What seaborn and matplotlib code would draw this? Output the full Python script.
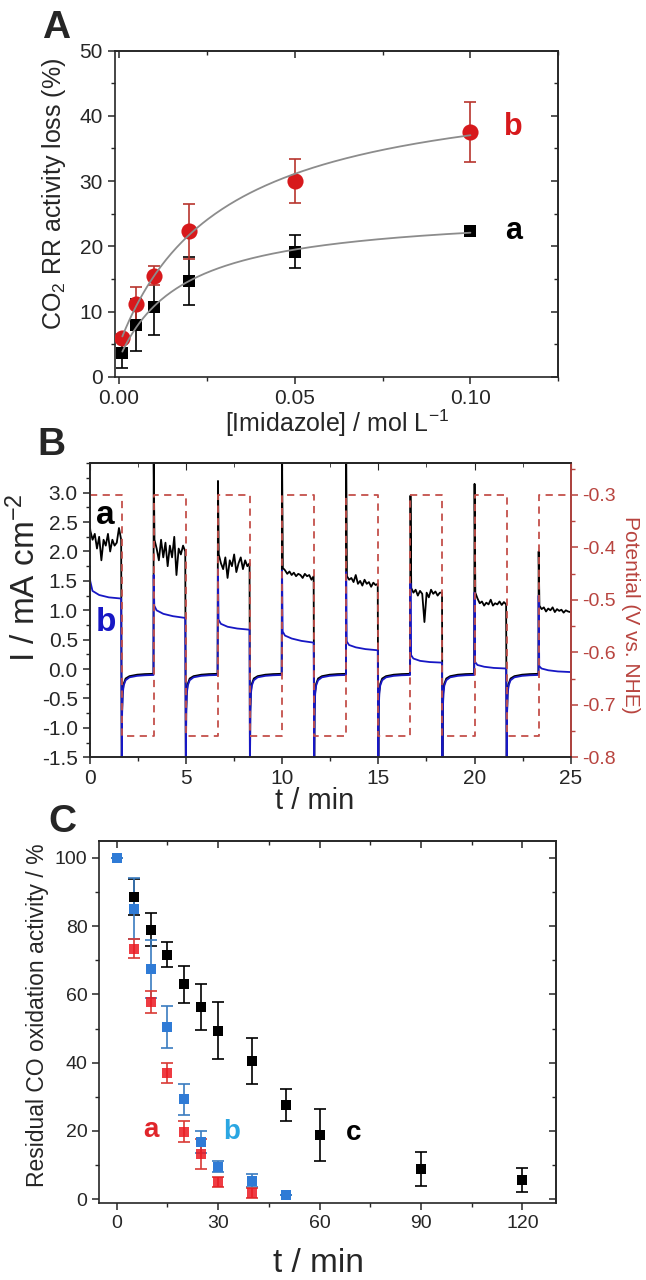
import numpy as np
import pandas as pd
import matplotlib
matplotlib.use('Agg')
import matplotlib.pyplot as plt
from matplotlib.ticker import MultipleLocator, FormatStrFormatter
import seaborn as sns

sns.set_style('ticks')
plt.rcParams['font.family'] = ['Liberation Sans', 'DejaVu Sans']
plt.rcParams['mathtext.fontset'] = 'custom'
plt.rcParams['mathtext.rm'] = 'Liberation Sans'
plt.rcParams['mathtext.it'] = 'Liberation Sans:italic'
plt.rcParams['axes.linewidth'] = 1.2
plt.rcParams['axes.unicode_minus'] = False

# %% panel A data
conc = [0.001, 0.005, 0.01, 0.02, 0.05, 0.10]
loss_a = [3.7, 7.9, 10.7, 14.7, 19.2, 22.3]
err_a = [2.3, 4.0, 4.3, 3.7, 2.6, 0.5]
loss_b = [5.9, 11.1, 15.5, 22.3, 30.0, 37.6]
err_b = [0.6, 2.6, 1.5, 4.2, 3.4, 4.6]

# %% panel B data (chronoamperometry, potential steps every 100 s)
step_t = [0, 1.67, 3.33, 5.0, 6.67, 8.33, 10.0, 11.67, 13.33, 15.0, 16.67, 18.33, 20.0, 21.67, 23.33, 25.0]
potential = [-0.30, -0.76, -0.30, -0.76, -0.30, -0.76, -0.30, -0.76,
             -0.30, -0.76, -0.30, -0.76, -0.30, -0.76, -0.30, -0.30]

# black trace a, on-steps: first value right after the switch, then the noisy plateau
a_on = [
    [2.48, 2.35, 2.2, 2.3, 2.05, 2.25, 1.85, 2.2, 2.1, 2.3, 2.0, 2.2, 2.1, 2.15, 2.4, 2.2],
    [3.6, 2.2, 2.05, 1.85, 2.2, 1.9, 2.15, 1.75, 2.1, 1.9, 2.25, 1.6, 2.05, 1.95, 2.1, 2.0],
    [3.2, 1.95, 1.8, 1.7, 1.9, 1.55, 1.85, 1.75, 1.95, 1.65, 1.8, 1.9, 1.7, 1.85, 1.75, 1.8],
    [3.6, 1.72, 1.68, 1.62, 1.66, 1.6, 1.64, 1.58, 1.62, 1.6, 1.55, 1.62, 1.58, 1.6, 1.52, 1.58],
    [3.6, 1.58, 1.52, 1.55, 1.48, 1.6, 1.45, 1.5, 1.42, 1.52, 1.45, 1.48, 1.4, 1.47, 1.43, 1.45],
    [2.95, 1.38, 1.3, 1.35, 1.25, 1.33, 1.28, 0.8, 1.3, 1.22, 1.35, 1.28, 1.32, 1.25, 1.3, 1.3],
    [3.15, 1.3, 1.2, 1.12, 1.15, 1.08, 1.13, 1.1, 1.18, 1.08, 1.12, 1.1, 1.15, 1.09, 1.14, 1.1],
    [2.0, 1.08, 1.02, 1.05, 0.98, 1.03, 1.0, 1.05, 0.97, 1.02, 0.99, 1.01, 0.96, 1.0, 0.98, 0.97],
]
a_on_rel = [0.0] + list(np.linspace(0.04, 1.64, 15))

# blue trace b, on-steps
b_on = [
    [1.75, 1.5, 1.33, 1.26, 1.22, 1.2],
    [1.6, 1.08, 1.0, 0.94, 0.9, 0.87],
    [1.7, 0.84, 0.77, 0.72, 0.69, 0.67],
    [1.68, 0.64, 0.57, 0.52, 0.48, 0.45],
    [1.65, 0.47, 0.41, 0.37, 0.34, 0.32],
    [1.46, 0.24, 0.18, 0.14, 0.12, 0.11],
    [1.3, 0.12, 0.07, 0.04, 0.02, 0.01],
    [1.25, 0.05, 0.01, -0.02, -0.04, -0.05],
]
b_on_rel = [0.0, 0.03, 0.15, 0.5, 1.0, 1.64]

# off-steps (same recovery for every step)
off_rel = [0.0, 0.02, 0.05, 0.1, 0.2, 0.4, 0.8, 1.2, 1.65]
a_off = [-1.8, -0.7, -0.38, -0.25, -0.16, -0.12, -0.095, -0.085, -0.08]
b_off = [-1.8, -0.75, -0.42, -0.28, -0.19, -0.14, -0.115, -0.105, -0.1]

# %% panel C data
t_c = [5, 10, 15, 20, 25, 30, 40, 50, 60, 90, 120]
res_c = [88.5, 78.9, 71.6, 62.9, 56.2, 49.4, 40.4, 27.6, 18.8, 8.9, 5.7]
err_c = [5.4, 4.8, 3.6, 5.4, 6.7, 8.4, 6.7, 4.6, 7.7, 5.0, 3.5]
t_b = [0, 5, 10, 15, 20, 25, 30, 40, 50]
res_b = [100, 85.1, 67.4, 50.5, 29.3, 16.8, 9.5, 5.5, 1.3]
err_b_c = [0, 9.0, 8.4, 6.2, 4.6, 3.2, 1.6, 2.0, 0]
t_a = [5, 10, 15, 20, 25, 30, 40]
res_a = [73.4, 57.8, 37.0, 19.8, 13.2, 5.1, 1.9]
err_a_c = [2.8, 3.3, 3.0, 3.0, 4.4, 1.5, 1.5]


def langmuir_fit(x, y):
    x = np.asarray(x, float)
    y = np.asarray(y, float)
    best = None
    for k in np.linspace(0.002, 0.2, 600):
        M = np.column_stack([np.ones_like(x), x / (k + x)])
        coef = np.linalg.lstsq(M, y, rcond=None)[0]
        sse = ((M @ coef - y) ** 2).sum()
        if best is None or sse < best[0]:
            best = (sse, k, coef)
    _, k, (y0, ymax) = best
    xs = np.linspace(x.min(), x.max(), 200)
    return xs, y0 + ymax * xs / (k + xs)


def build_trace(on_vals, on_rel, off_vals):
    t, cur = [], []
    for k in range(len(step_t) - 1):
        t0 = step_t[k]
        if k % 2 == 0:
            vals, rel = on_vals[k // 2], on_rel
        else:
            vals, rel = off_vals, off_rel
        t += [t0 + r for r in rel]
        cur += list(vals)
    return t, cur


def mirror(ax, xmaj, xmin, ymaj=None, ymin=None):
    ax.tick_params(which='both', direction='out', top=False, right=False)
    ax.tick_params(which='major', length=5, width=1.1)
    ax.tick_params(which='minor', length=3, width=1.0)
    ax.xaxis.set_major_locator(MultipleLocator(xmaj))
    ax.xaxis.set_minor_locator(MultipleLocator(xmin))
    top = ax.secondary_xaxis('top')
    top.xaxis.set_major_locator(MultipleLocator(xmaj))
    top.xaxis.set_minor_locator(MultipleLocator(xmin))
    top.tick_params(which='both', direction='in', labeltop=False)
    top.tick_params(which='major', length=5, width=1.1)
    top.tick_params(which='minor', length=3, width=1.0)
    if ymaj is not None:
        ax.yaxis.set_major_locator(MultipleLocator(ymaj))
        ax.yaxis.set_minor_locator(MultipleLocator(ymin))
        rt = ax.secondary_yaxis('right')
        rt.yaxis.set_major_locator(MultipleLocator(ymaj))
        rt.yaxis.set_minor_locator(MultipleLocator(ymin))
        rt.tick_params(which='both', direction='in', labelright=False)
        rt.tick_params(which='major', length=5, width=1.1)
        rt.tick_params(which='minor', length=3, width=1.0)


W, H = 646, 1280
fig = plt.figure(figsize=(6.46, 12.8), dpi=100)


def px_axes(l, t, r, b):
    return fig.add_axes([l / W, 1 - b / H, (r - l) / W, (b - t) / H])


# %% ---------------- A ----------------
axA = px_axes(114.6, 50.7, 558.3, 376.7)
axA.errorbar(conc, loss_a, yerr=err_a, fmt='none', ecolor='black', elinewidth=1.2,
             capsize=4, capthick=1.2, zorder=2)
axA.errorbar(conc, loss_b, yerr=err_b, fmt='none', ecolor='#b8352e', elinewidth=1.2,
             capsize=4, capthick=1.2, zorder=2)
sns.scatterplot(x=conc, y=loss_a, marker='s', s=85, color='black', linewidth=0, ax=axA, zorder=3)
sns.scatterplot(x=conc, y=loss_b, marker='o', s=135, color='#d7191c', linewidth=0, ax=axA, zorder=3)
for yy in (loss_a, loss_b):
    xs, ys = langmuir_fit(conc, yy)
    sns.lineplot(x=xs, y=ys, color='#8c8c8c', lw=1.3, ax=axA, zorder=4)
axA.set_xlim(-0.0012, 0.125)
axA.set_ylim(0, 50)
mirror(axA, 0.05, 0.025, 10, 5)
axA.set_xticks([0, 0.05, 0.10])
axA.set_xticklabels(['0.00', '0.05', '0.10'])
axA.tick_params(labelsize=15)
axA.set_xlabel('[Imidazole] / mol L$^{-1}$', fontsize=18, va='center')
axA.xaxis.set_label_coords(0.501, -0.142)
axA.set_ylabel('CO$_2$ RR activity loss (%)', fontsize=18, va='center')
axA.yaxis.set_label_coords(-0.137, 0.56)
axA.text(0.1122, 38.3, 'b', color='#d7191c', fontsize=22, fontweight='bold', ha='center', va='center')
axA.text(0.1122, 22.4, 'a', color='black', fontsize=22, fontweight='bold', ha='center', va='center')

# %% ---------------- B ----------------
axB = px_axes(89.6, 463.3, 570.8, 757.3)
ta, ia = build_trace(a_on, a_on_rel, a_off)
tb, ib = build_trace(b_on, b_on_rel, b_off)
sns.lineplot(x=ta, y=ia, sort=False, estimator=None, color='black', lw=1.3, ax=axB)
sns.lineplot(x=tb, y=ib, sort=False, estimator=None, color='#1717c4', lw=1.3, ax=axB)
axB.set_xlim(0, 25)
axB.set_ylim(-1.5, 3.5)
axB.tick_params(which='both', direction='out', top=False, right=False)
axB.tick_params(which='major', length=5, width=1.1)
axB.tick_params(which='minor', length=3, width=1.0)
axB.xaxis.set_major_locator(MultipleLocator(5))
axB.xaxis.set_minor_locator(MultipleLocator(2.5))
axB.yaxis.set_minor_locator(MultipleLocator(0.25))
axB.set_yticks(np.arange(-1.5, 3.01, 0.5))
axB.yaxis.set_major_formatter(FormatStrFormatter('%.1f'))
topB = axB.secondary_xaxis('top')
topB.xaxis.set_major_locator(MultipleLocator(5))
topB.xaxis.set_minor_locator(MultipleLocator(2.5))
topB.tick_params(which='both', direction='in', labeltop=False)
topB.tick_params(which='major', length=5)
topB.tick_params(which='minor', length=3)
axB.tick_params(labelsize=15)
axB.set_xlabel('t / min', fontsize=21, va='center')
axB.xaxis.set_label_coords(0.468, -0.15)
axB.set_ylabel('I / mA cm$^{-2}$', fontsize=24, va='center')
axB.yaxis.set_label_coords(-0.134, 0.61)
axB.text(0.8, 2.61, 'a', color='black', fontsize=24, fontweight='bold', ha='center', va='center')
axB.text(0.85, 0.79, 'b', color='#1717c4', fontsize=24, fontweight='bold', ha='center', va='center')

pot_red = '#b8443f'
axP = axB.twinx()
sns.lineplot(x=step_t, y=potential, drawstyle='steps-post', sort=False, estimator=None,
             color='#c4504b', lw=1.3, ax=axP)
axP.lines[-1].set_dashes((4, 3))
axP.set_ylim(-0.8, -0.24)
axP.set_xlim(0, 25)
axP.yaxis.set_minor_locator(MultipleLocator(0.05))
axP.set_yticks([-0.8, -0.7, -0.6, -0.5, -0.4, -0.3])
axP.yaxis.set_major_formatter(FormatStrFormatter('%.1f'))
axP.tick_params(which='both', direction='out', colors=pot_red, labelsize=14)
axP.tick_params(which='major', length=5, width=1.1)
axP.tick_params(which='minor', length=3, width=1.0)
axP.spines['right'].set_color(pot_red)
axP.spines['right'].set_linewidth(1.3)
axP.set_ylabel('Potential (V vs. NHE)', fontsize=15, color=pot_red, rotation=270, va='center')
axP.yaxis.set_label_coords(1.125, 0.484)

# %% ---------------- C ----------------
axC = px_axes(99.2, 840.7, 556.3, 1202.7)
axC.errorbar(t_c, res_c, yerr=err_c, fmt='none', ecolor='black', elinewidth=1.2,
             capsize=4.5, capthick=1.2, zorder=2)
axC.errorbar(t_b, res_b, yerr=err_b_c, fmt='none', ecolor='#3a7cc0', elinewidth=1.2,
             capsize=4.5, capthick=1.2, zorder=2)
axC.errorbar(t_a, res_a, yerr=err_a_c, fmt='none', ecolor='#d93a35', elinewidth=1.2,
             capsize=4.5, capthick=1.2, zorder=2)
sns.scatterplot(x=t_c, y=res_c, marker='s', s=58, color='black', linewidth=0, ax=axC, zorder=3)
sns.scatterplot(x=t_b, y=res_b, marker='s', s=58, color='#2f7bd6', linewidth=0, ax=axC, zorder=4)
sns.scatterplot(x=t_a, y=res_a, marker='s', s=58, color='#ec1a22', linewidth=0, alpha=0.85,
                ax=axC, zorder=5)
axC.set_xlim(-5.2, 130)
axC.set_ylim(-1, 105)
mirror(axC, 30, 15, 20, 10)
axC.tick_params(labelsize=14)
axC.set_xlabel('t / min', fontsize=24, va='center')
axC.xaxis.set_label_coords(0.479, -0.167)
axC.set_ylabel('Residual CO oxidation activity / %', fontsize=16.5, va='center')
axC.yaxis.set_label_coords(-0.135, 0.518)
axC.text(10.1, 20.3, 'a', color='#e0262b', fontsize=20, fontweight='bold', ha='center', va='center')
axC.text(33.9, 19.8, 'b', color='#2aa6e2', fontsize=20, fontweight='bold', ha='center', va='center')
axC.text(70.1, 19.3, 'c', color='black', fontsize=20, fontweight='bold', ha='center', va='center')

# panel letters
for lab, (x, y) in {'A': (56, 28), 'B': (51, 445), 'C': (62, 822)}.items():
    fig.text(x / W, 1 - y / H, lab, fontsize=28, fontweight='bold', ha='center', va='center')

fig.patch.set_facecolor('white')
fig.savefig('out.png', dpi=100)
